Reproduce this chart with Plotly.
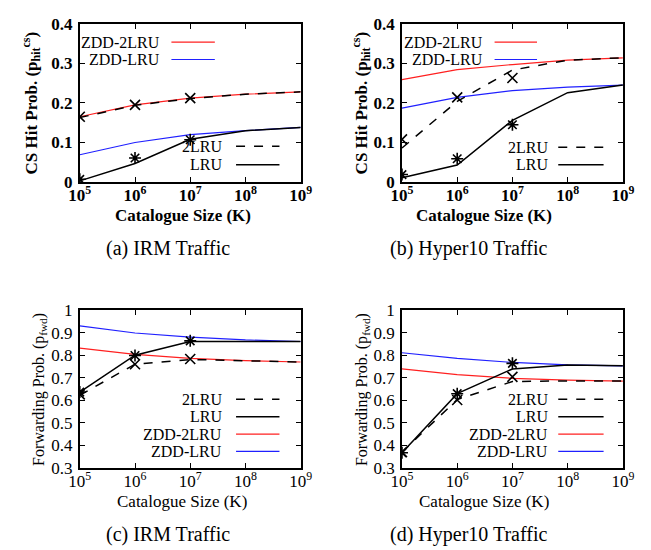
import plotly.graph_objects as go

# ---------------- data ----------------
K = [1e5, 1e6, 1e7, 1e8, 1e9]
K_sim = [1e5, 1e6, 1e7]
x_ticktext = ["10<sup>5</sup>", "10<sup>6</sup>", "10<sup>7</sup>", "10<sup>8</sup>", "10<sup>9</sup>"]

# (a) IRM traffic, CS hit probability
a_zdd2lru = [0.165, 0.195, 0.212, 0.222, 0.228]
a_zddlru = [0.069, 0.100, 0.120, 0.130, 0.138]
a_2lru = [0.163, 0.194, 0.211, 0.222, 0.228]
a_lru = [0.003, 0.047, 0.108, 0.130, 0.138]
a_2lru_sim = [0.165, 0.195, 0.212]
a_lru_sim = [0.007, 0.061, 0.107]

# (b) Hyper10 traffic, CS hit probability
b_zdd2lru = [0.259, 0.284, 0.297, 0.308, 0.314]
b_zddlru = [0.187, 0.214, 0.231, 0.240, 0.245]
b_2lru = [0.086, 0.204, 0.283, 0.308, 0.314]
b_lru = [0.011, 0.043, 0.156, 0.226, 0.245]
b_2lru_sim = [0.108, 0.214, 0.263]
b_lru_sim = [0.019, 0.059, 0.145]

# (c) IRM traffic, forwarding probability
c_zdd2lru = [0.833, 0.805, 0.787, 0.777, 0.771]
c_zddlru = [0.932, 0.900, 0.882, 0.869, 0.862]
c_2lru = [0.623, 0.761, 0.782, 0.777, 0.771]
c_lru = [0.637, 0.801, 0.862, 0.863, 0.862]
c_2lru_sim = [0.627, 0.761, 0.784]
c_lru_sim = [0.637, 0.800, 0.865]

# (d) Hyper10 traffic, forwarding probability
d_zdd2lru = [0.740, 0.715, 0.698, 0.690, 0.686]
d_zddlru = [0.812, 0.787, 0.769, 0.758, 0.754]
d_2lru = [0.370, 0.604, 0.684, 0.687, 0.686]
d_lru = [0.367, 0.630, 0.740, 0.758, 0.754]
d_2lru_sim = [0.370, 0.602, 0.705]
d_lru_sim = [0.367, 0.630, 0.765]

top_yticks = [0, 0.1, 0.2, 0.3, 0.4]
top_yticktext = ["0", "0.1", "0.2", "0.3", "0.4"]
bot_yticks = [0.3, 0.4, 0.5, 0.6, 0.7, 0.8, 0.9, 1.0]
bot_yticktext = ["0.3", "0.4", "0.5", "0.6", "0.7", "0.8", "0.9", "1"]

# ---------------- layout helpers ----------------
W, H = 651, 550
FONT = "Liberation Serif, Times New Roman, serif"
RED = "#ff2020"
BLUE = "#2020ff"


def px(x):
    return x / W


def py(y):
    return 1 - y / H


panels = [
    ("", (a_zdd2lru, a_zddlru, a_2lru, a_lru, a_2lru_sim, a_lru_sim), (63, 292), (7, 171), [0, 0.4], True),
    ("2", (b_zdd2lru, b_zddlru, b_2lru, b_lru, b_2lru_sim, b_lru_sim), (397, 626), (7, 171), [0, 0.4], True),
    ("3", (c_zdd2lru, c_zddlru, c_2lru, c_lru, c_2lru_sim, c_lru_sim), (63, 292), (304, 467), [0.3, 1.0], False),
    ("4", (d_zdd2lru, d_zddlru, d_2lru, d_lru, d_2lru_sim, d_lru_sim), (397, 626), (304, 467), [0.3, 1.0], False),
]

fig = go.Figure()
layout = dict(
    width=W, height=H,
    margin=dict(l=0, r=0, t=0, b=0),
    paper_bgcolor="white", plot_bgcolor="white",
    showlegend=False,
    font=dict(family=FONT, color="black"),
)

for name, series, xd, yd, yr, bold in panels:
    zdd2, zdd1, two, one, two_sim, one_sim = series
    xa, ya = "x" + name, "y" + name
    fig.add_trace(go.Scatter(x=K, y=zdd2, xaxis=xa, yaxis=ya, mode="lines",
                             line=dict(color=RED, width=1.2)))
    fig.add_trace(go.Scatter(x=K, y=zdd1, xaxis=xa, yaxis=ya, mode="lines",
                             line=dict(color=BLUE, width=1.2)))
    fig.add_trace(go.Scatter(x=K, y=two, xaxis=xa, yaxis=ya, mode="lines",
                             line=dict(color="black", width=1.5, dash="dash")))
    fig.add_trace(go.Scatter(x=K, y=one, xaxis=xa, yaxis=ya, mode="lines",
                             line=dict(color="black", width=1.5)))
    fig.add_trace(go.Scatter(x=K_sim, y=two_sim, xaxis=xa, yaxis=ya, mode="markers",
                             marker=dict(symbol="x-thin-open", size=10, color="black",
                                         line=dict(color="black", width=1.6))))
    fig.add_trace(go.Scatter(x=K_sim, y=one_sim, xaxis=xa, yaxis=ya, mode="markers",
                             marker=dict(symbol="asterisk-open", size=10, color="black",
                                         line=dict(color="black", width=1.6))))
    tickfont = dict(family=FONT, size=17, color="black", weight="bold" if bold else "normal")
    common = dict(showline=True, linecolor="black", linewidth=1.5, mirror="ticks",
                  ticks="inside", ticklen=5, tickwidth=1, tickcolor="black",
                  showgrid=False, zeroline=False, tickfont=tickfont)
    layout["xaxis" + name] = dict(domain=[px(xd[0]), px(xd[1])], anchor=ya, type="log",
                                  range=[5, 9], tickvals=K, ticktext=x_ticktext,
                                  ticklabelstandoff=-3, **common)
    if bold:
        yt, ytt = top_yticks, top_yticktext
    else:
        yt, ytt = bot_yticks, bot_yticktext
    layout["yaxis" + name] = dict(domain=[py(yd[1]), py(yd[0])], anchor=xa,
                                  range=yr, tickvals=yt, ticktext=ytt,
                                  ticklabelstandoff=2, **common)

fig.update_layout(**layout)

annotations = []
shapes = []


def text(x, y, s, size=15, bold=False, angle=0, xanchor="center"):
    annotations.append(dict(x=px(x), y=py(y), xref="paper", yref="paper", text=s,
                            showarrow=False, textangle=angle, xanchor=xanchor, yanchor="middle",
                            font=dict(family=FONT, size=size, color="black",
                                      weight="bold" if bold else "normal")))


def legend_entry(xr, x0, x1, y, label, color, dash="solid", width=1.5):
    text(xr, y, label, size=16, xanchor="right")
    shapes.append(dict(type="line", xref="paper", yref="paper", x0=px(x0), x1=px(x1),
                       y0=py(y), y1=py(y), line=dict(color=color, width=width, dash=dash)))


# axis titles
ytitle_top = "CS Hit Prob. (p<sub>hit</sub><sup>cs</sup>)"
ytitle_bot = "Forwarding Prob. (p<sub>fwd</sub>)"
text(13, 89, ytitle_top, size=17, bold=True, angle=-90)
text(355, 89, ytitle_top, size=17, bold=True, angle=-90)
text(21, 386, ytitle_bot, size=16, angle=-90)
text(356, 386, ytitle_bot, size=16, angle=-90)
text(170, 206, "Catalogue Size (K)", size=17, bold=True)
text(482, 206, "Catalogue Size (K)", size=17, bold=True)
text(169, 502, "Catalogue Size (K)", size=17)
text(482, 502, "Catalogue Size (K)", size=17)

# captions
text(154, 240, "(a) IRM Traffic", size=20)
text(466, 240, "(b) Hyper10 Traffic", size=20)
text(154, 536, "(c) IRM Traffic", size=20)
text(466, 536, "(d) Hyper10 Traffic", size=20)

# legends
legend_entry(148, 158, 203, 26, "ZDD-2LRU", RED, width=1.2)
legend_entry(148, 158, 203, 44, "ZDD-LRU", BLUE, width=1.2)
legend_entry(213, 225, 270, 134, "2LRU", "black", dash="dash")
legend_entry(213, 225, 270, 153, "LRU", "black")

legend_entry(483, 493, 537, 26, "ZDD-2LRU", RED, width=1.2)
legend_entry(483, 493, 537, 44, "ZDD-LRU", BLUE, width=1.2)
legend_entry(550, 559, 606, 135, "2LRU", "black", dash="dash")
legend_entry(550, 559, 606, 153, "LRU", "black")

for xr, x0, x1 in [(213, 225, 270), (550, 559, 606)]:
    legend_entry(xr, x0, x1, 396, "2LRU", "black", dash="dash")
    legend_entry(xr, x0, x1, 414, "LRU", "black")
    legend_entry(xr, x0, x1, 432, "ZDD-2LRU", RED, width=1.2)
    legend_entry(xr, x0, x1, 450, "ZDD-LRU", BLUE, width=1.2)

fig.update_layout(annotations=annotations, shapes=shapes)
fig.write_html("out.html")
